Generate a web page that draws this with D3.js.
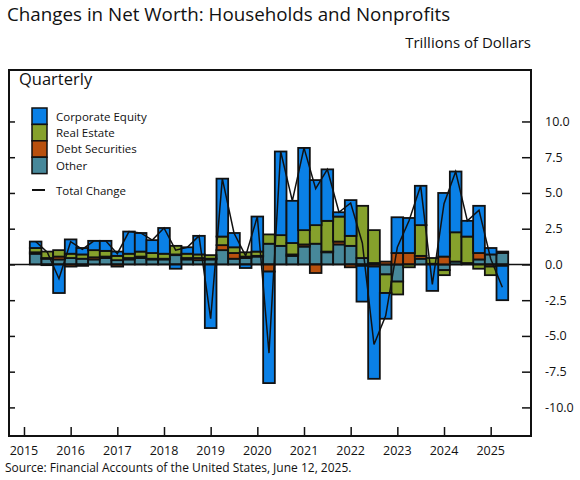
<html><head>
<meta charset="utf-8">
<script src="https://d3js.org/d3.v7.min.js"></script>
<style>
  body { margin: 0; background: #fff; }
  text { font-family: "Open Sans", sans-serif; fill: #111; }
</style>
</head>
<body>
<svg id="chart" width="580" height="480"></svg>
<script>
const quarters = [
  "2015Q1","2015Q2","2015Q3","2015Q4","2016Q1","2016Q2","2016Q3","2016Q4",
  "2017Q1","2017Q2","2017Q3","2017Q4","2018Q1","2018Q2","2018Q3","2018Q4",
  "2019Q1","2019Q2","2019Q3","2019Q4","2020Q1","2020Q2","2020Q3","2020Q4",
  "2021Q1","2021Q2","2021Q3","2021Q4","2022Q1","2022Q2","2022Q3","2022Q4",
  "2023Q1","2023Q2","2023Q3","2023Q4","2024Q1","2024Q2","2024Q3","2024Q4",
  "2025Q1"];
const other = [0.75,0.4,0.35,0.45, 0.4,0.35,0.45,0.3, 0.35,0.45,0.35,0.35, 0.65,0.35,0.3,0.35,
  1.0,0.4,0.45,0.55, 1.45,1.3,0.6,1.25, 1.45,0.85,1.4,1.3, 0.45,0.1,-0.7,-1.2,
  0.0,0.4,0.05,-0.4, 0.2,0.0,0.35,0.7, 0.8];
const debtSecurities = [0.1,0.05,0.2,-0.15, -0.1,0.15,0.1,-0.15, 0.1,0.1,0.05,0.05, 0.05,0.1,0.15,0.05,
  0.35,0.4,0.1,0.05, -0.5,0.0,0.1,0.15, -0.6,0.05,0.2,-0.2, -0.1,-0.15,0.2,0.8,
  0.8,0.2,0.0,0.55, 0.0,0.1,0.45,-0.15, 0.1];
const realEstate = [0.3,0.45,0.45,0.3, 0.3,0.5,0.4,0.3, 0.3,0.35,0.4,0.35, 0.6,0.3,0.25,0.25,
  0.6,0.4,0.3,0.3, 0.65,0.75,0.8,1.0, 1.3,2.15,1.75,0.7, 3.65,2.3,-1.3,-0.9,
  -0.2,2.15,0.4,-0.35, 2.05,1.85,-0.3,-0.6, -0.1];
const corporateEquity = [0.45,-0.05,-2.0,1.0, 0.45,0.65,0.7,0.3, 1.55,1.3,0.9,1.8, -0.3,0.45,1.3,-4.45,
  4.05,1.0,-0.25,2.45, -7.8,5.85,2.95,5.75, 3.15,3.6,0.3,2.5, -2.5,-7.85,-1.8,2.5,
  2.45,2.75,-1.85,4.45, 4.25,1.1,3.3,0.45, -2.4];
const totalChange = [1.6,0.85,-1.0,1.6, 1.05,1.65,1.65,0.75, 2.3,2.2,1.7,2.55, 1.0,1.2,2.0,-3.8,
  6.0,2.2,0.6,3.35, -6.2,7.9,4.45,8.15, 5.3,6.65,3.65,4.3, 1.5,-5.6,-3.6,1.2,
  3.05,5.5,-1.4,4.25, 6.5,3.05,3.8,0.4, -1.6];
const yTicks = [-10, -7.5, -5, -2.5, 0, 2.5, 5, 7.5, 10];
const years = [2015,2016,2017,2018,2019,2020,2021,2022,2023,2024,2025];

const seriesKeys = ["other", "debt", "realEstate", "equity"];
const legendItems = [
  {key: "equity", label: "Corporate Equity"},
  {key: "realEstate", label: "Real Estate"},
  {key: "debt", label: "Debt Securities"},
  {key: "other", label: "Other"}
];
const colors = {equity: "#0a80e6", realEstate: "#86a12c", debt: "#b8500e", other: "#47889a"};

const svg = d3.select("#chart");
const pLeft = 9, pRight = 531, pTop = 70, pBottom = 436;

// decimal year of quarter end
const rows = quarters.map((q, i) => ({
  t: +q.slice(0, 4) + (+q.slice(5)) / 4,
  other: other[i], debt: debtSecurities[i], realEstate: realEstate[i], equity: corporateEquity[i],
  total: totalChange[i]
}));

const x = d3.scaleLinear().domain([2014.679, 2025.864]).range([pLeft, pRight]);
const y = d3.scaleLinear().domain([-12, 13.6]).range([pBottom, pTop]);
const bw = x(2015.25) - x(2015);

const stacked = d3.stack().keys(seriesKeys).offset(d3.stackOffsetDiverging)(rows);

// titles
svg.append("text").attr("x", 7).attr("y", 21).attr("font-size", 18.8).text("Changes in Net Worth: Households and Nonprofits");
svg.append("text").attr("x", 531).attr("y", 48).attr("text-anchor", "end").attr("font-size", 15).text("Trillions of Dollars");

// bars
const g = svg.append("g");
stacked.forEach(s => {
  g.selectAll(null).data(s).join("rect")
    .attr("x", d => x(d.data.t) - bw / 2)
    .attr("width", bw)
    .attr("y", d => y(Math.max(d[0], d[1])))
    .attr("height", d => Math.abs(y(d[0]) - y(d[1])))
    .attr("fill", colors[s.key])
    .attr("stroke", "#111")
    .attr("stroke-width", 1.8);
});

// zero line
svg.append("line").attr("x1", pLeft).attr("x2", pRight).attr("y1", y(0)).attr("y2", y(0))
  .attr("stroke", "#111").attr("stroke-width", 1.5);

// total change line
svg.append("path").datum(rows)
  .attr("d", d3.line().x(d => x(d.t)).y(d => y(d.total)))
  .attr("fill", "none").attr("stroke", "#111").attr("stroke-width", 1.5);

// frame
svg.append("rect").attr("x", pLeft).attr("y", pTop).attr("width", pRight - pLeft).attr("height", pBottom - pTop)
  .attr("fill", "none").attr("stroke", "#111").attr("stroke-width", 2);

// right axis
const yAxis = svg.append("g").attr("transform", `translate(${pRight},0)`)
  .call(d3.axisLeft(y).tickValues(yTicks).tickSize(9).tickFormat(""));
yAxis.select(".domain").remove();
yAxis.selectAll("line").attr("stroke", "#111").attr("stroke-width", 1.5);
svg.append("g").selectAll("text").data(yTicks).join("text")
  .attr("x", 545).attr("y", d => y(d) + 4.5).attr("font-size", 12.5)
  .text(d => d3.format(".1f")(d).replace("\u2212", "-"));

// left ticks
const yAxisL = svg.append("g").attr("transform", `translate(${pLeft},0)`)
  .call(d3.axisRight(y).tickValues(yTicks).tickSize(6).tickFormat(""));
yAxisL.select(".domain").remove();
yAxisL.selectAll("line").attr("stroke", "#111").attr("stroke-width", 1.5);

// bottom axis
const xAxis = svg.append("g").attr("transform", `translate(0,${pBottom})`)
  .call(d3.axisTop(x).tickValues(years).tickSize(9).tickFormat(""));
xAxis.select(".domain").remove();
xAxis.selectAll("line").attr("stroke", "#111").attr("stroke-width", 1.5);
svg.append("g").selectAll("text").data(years).join("text")
  .attr("x", d => x(d)).attr("y", 455).attr("text-anchor", "middle").attr("font-size", 12.5)
  .text(d => d);

// panel label and legend
svg.append("text").attr("x", 19).attr("y", 85).attr("font-size", 16.5).text("Quarterly");
const leg = svg.append("g");
legendItems.forEach((item, i) => {
  const yy = 108 + i * 16.4;
  leg.append("rect").attr("x", 32).attr("y", yy).attr("width", 15).attr("height", 16.4)
    .attr("fill", colors[item.key]).attr("stroke", "#111").attr("stroke-width", 1.5);
  leg.append("text").attr("x", 56).attr("y", yy + 12.5).attr("font-size", 11.5).text(item.label);
});
leg.append("line").attr("x1", 32).attr("x2", 45).attr("y1", 190).attr("y2", 190)
  .attr("stroke", "#111").attr("stroke-width", 2);
leg.append("text").attr("x", 56).attr("y", 194.5).attr("font-size", 11.5).text("Total Change");

svg.append("text").attr("x", 5).attr("y", 472).attr("font-size", 12)
  .text("Source: Financial Accounts of the United States, June 12, 2025.");
</script>
</body>
</html>
